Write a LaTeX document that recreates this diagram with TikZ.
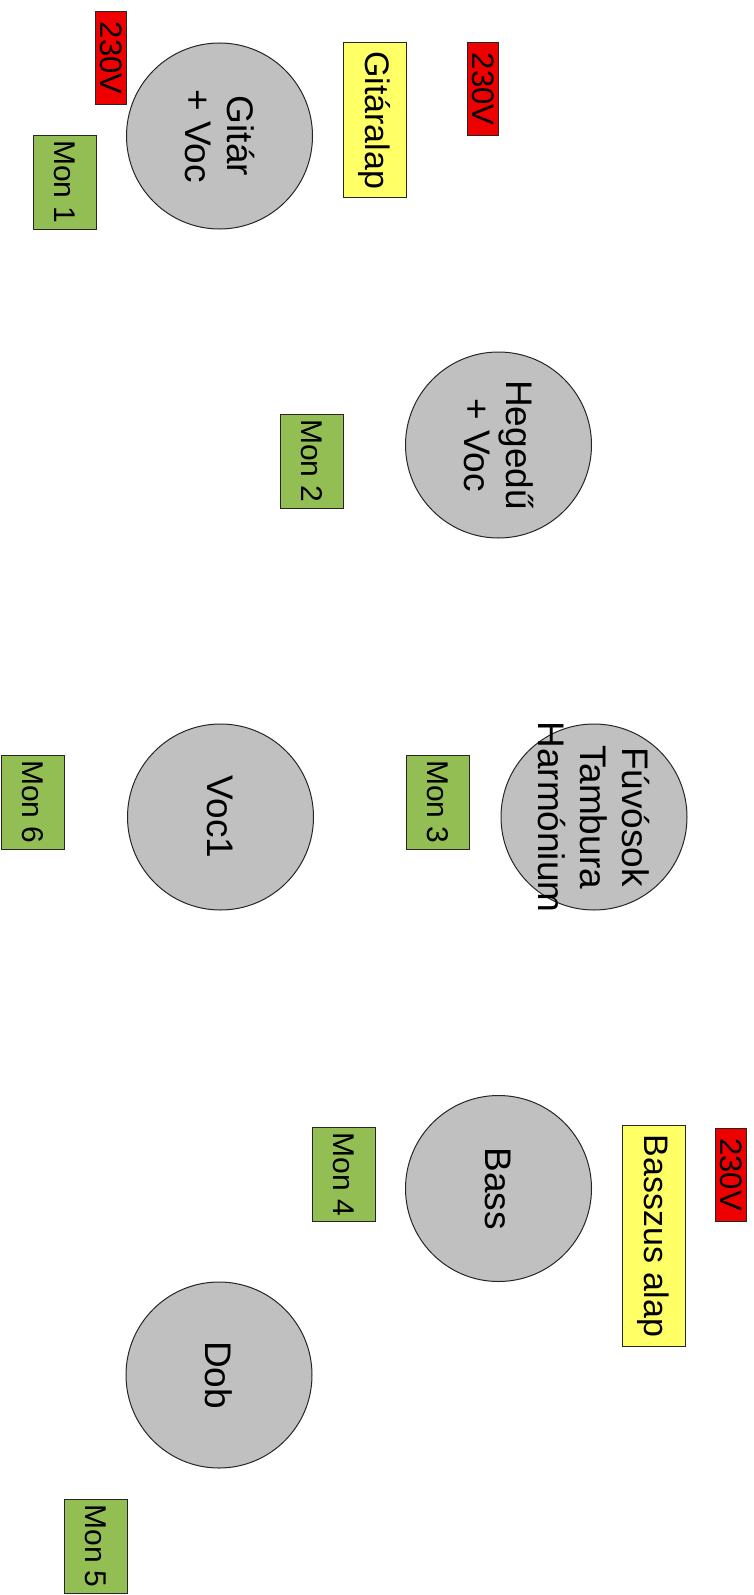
\documentclass[tikz,border=0pt]{standalone}
\usepackage{fontspec}
\setmainfont{Liberation Sans}
\usepackage{tikz}
\usetikzlibrary{positioning}
\definecolor{instgray}{RGB}{192,192,192}
\definecolor{mongreen}{RGB}{146,190,84}
\definecolor{alapyellow}{RGB}{255,255,102}
\definecolor{powerred}{RGB}{238,0,0}

\begin{document}
\begin{tikzpicture}[x=1pt, y=-1pt]
	\tikzstyle{inst}=[circle, minimum size=186pt, inner sep=0pt, line width=1pt, draw=black!85, fill=instgray, rotate=-90, align=center, font=\fontsize{37}{42}\selectfont]
	\tikzstyle{mon}=[rectangle, minimum width=94pt, minimum height=63pt, inner sep=0pt, line width=1pt, draw=black!85, fill=mongreen, rotate=-90, font=\fontsize{30}{34}\selectfont]
	\tikzstyle{alap}=[rectangle, minimum height=63pt, inner xsep=9pt, inner ysep=0pt, line width=1pt, draw=black!85, fill=alapyellow, rotate=-90, font=\fontsize{34}{38}\selectfont]
	\tikzstyle{power}=[rectangle, minimum width=93pt, minimum height=31pt, inner sep=0pt, line width=1pt, draw=black!85, fill=powerred, rotate=-90, font=\fontsize{31}{34}\selectfont]
	
	\useasboundingbox (0,0) rectangle (753,1595);
	
	\node[inst] at (219.5,136) (gitar) {Gitár\\+ Voc};
	\node[inst] at (498.5,445) (hegedu) {Hegedű\\+ Voc};
	\node[inst] at (220.5,817) (voc) {Voc1};
	\node[inst, inner sep=-40pt] at (594,817) (fuvos) {Fúvósok\\Tambura\\Harmónium};
	\node[inst] at (498.5,1188.5) (bass) {Bass};
	\node[inst] at (219,1375) (dob) {Dob};
	
	\node[mon] at (64.5,182) (mon1) {Mon 1};
	\node[mon] at (312,461) (mon2) {Mon 2};
	\node[mon] at (438,802) (mon3) {Mon 3};
	\node[mon] at (343.5,1174.5) (mon4) {Mon 4};
	\node[mon] at (95.5,1546) (mon5) {Mon 5};
	\node[mon] at (33,802) (mon6) {Mon 6};
	
	\node[alap] at (374.5,120) (gitaralap) {Gitáralap};
	\node[alap] at (653.5,1236) (basszusalap) {Basszus alap};
	
	\node[power] at (111,58) (power1) {230V};
	\node[power] at (483,89) (power2) {230V};
	\node[power] at (731,1174.5) (power3) {230V};
	
\end{tikzpicture}
\end{document}
